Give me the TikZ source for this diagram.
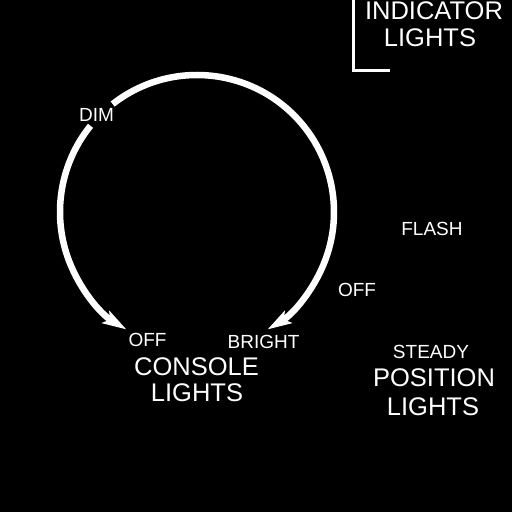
\documentclass[tikz,border=0pt]{standalone}
\usepackage{fontspec}
\setmainfont{Liberation Sans}
\usetikzlibrary{arrows.meta}
\begin{document}
\begin{tikzpicture}[x=1pt,y=1pt,
  small/.style={text=white,inner sep=0pt,font=\fontsize{19}{22}\selectfont},
  large/.style={text=white,inner sep=0pt,font=\fontsize{25.5}{27}\selectfont},
  dialarc/.style={draw=white,line width=6.5pt,-{Stealth[length=24pt,width=14pt,inset=5pt]}},
  bracket/.style={draw=white,line width=3.3pt}]
\fill[black] (0,0) rectangle (512,-512);
\useasboundingbox (0,0) rectangle (512,-512);
% dial
\coordinate (c) at (197,-212);
\draw[dialarc] ([shift={(141:137)}]c) arc[start angle=141,end angle=239,radius=137];
\draw[dialarc] ([shift={(128:137)}]c) arc[start angle=128,end angle=-59,radius=137];
% bracket
\coordinate (b1) at (353.3,0);
\coordinate (b2) at (353.3,-70.7);
\coordinate (b3) at (390,-70.7);
\draw[bracket] (b1) -- (b2) -- (b3);
% labels
\node[large] (ind) at (434,-10.5) {INDICATOR};
\node[large] (indl) at (430,-38) {LIGHTS};
\node[small] (dim) at (96.5,-114.5) {DIM};
\node[small] (flash) at (432,-228.5) {FLASH};
\node[small] (offr) at (357,-289.5) {OFF};
\node[small] (offb) at (147.5,-340) {OFF};
\node[small] (bright) at (263.5,-341.5) {BRIGHT};
\node[large] (cons) at (196.5,-366.5) {CONSOLE};
\node[large] (consl) at (197,-392.5) {LIGHTS};
\node[small] (steady) at (431,-352) {STEADY};
\node[large] (pos) at (434,-377.5) {POSITION};
\node[large] (posl) at (433,-407) {LIGHTS};
\end{tikzpicture}
\end{document}
